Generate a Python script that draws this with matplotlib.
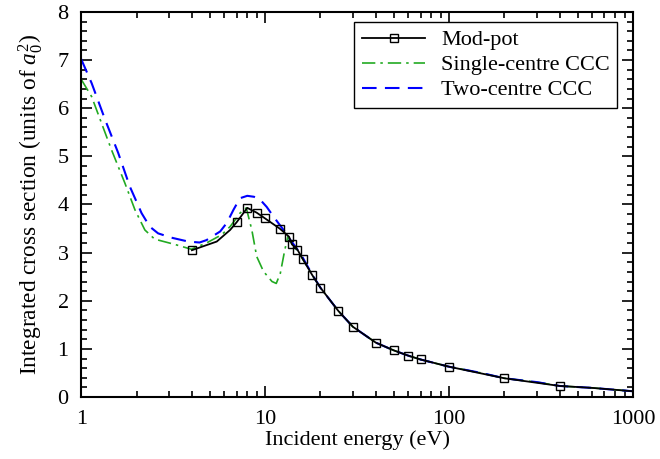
import matplotlib
matplotlib.use("Agg")
import matplotlib.pyplot as plt
from matplotlib.lines import Line2D
from matplotlib.ticker import LogLocator, MultipleLocator, NullFormatter

plt.rcParams["font.family"] = "Liberation Serif"
plt.rcParams["mathtext.fontset"] = "custom"
plt.rcParams["mathtext.rm"] = "Liberation Serif"
plt.rcParams["mathtext.it"] = "Liberation Serif:italic"
plt.rcParams["font.size"] = 16

# Mod-pot (line points; markers only at the computed energies)
modpot_e = [4, 5.46, 6.45, 7, 8, 9, 10, 12, 13.5, 14, 15, 16, 18, 20, 25, 30,
            40, 50, 60, 70, 100, 200, 400, 600, 1000]
modpot_s = [3.05, 3.23, 3.47, 3.63, 3.93, 3.83, 3.71, 3.50, 3.33, 3.17, 3.06,
            2.87, 2.54, 2.27, 1.79, 1.46, 1.13, 0.97, 0.86, 0.78, 0.63, 0.39,
            0.23, 0.19, 0.12]
modpot_marks = [4, 7, 8, 9, 10, 12, 13.5, 14, 15, 16, 18, 20, 25, 30, 40, 50,
                60, 70, 100, 200, 400]

# Single-centre CCC
single_e = [1, 1.14, 1.29, 1.46, 1.73, 1.96, 2.22, 2.51, 3.23, 3.97, 4.8, 5.8,
            6.45, 7.0, 7.3, 7.9, 8.47, 9.0, 9.8, 10.9, 11.5, 12.1, 12.8, 13.3,
            14.3, 15, 16, 18, 20, 25, 30, 40, 50, 60, 70, 100, 150, 200, 300,
            400, 600, 1000]
single_s = [6.60, 6.24, 5.69, 5.14, 4.44, 3.89, 3.47, 3.28, 3.17, 3.07, 3.20,
            3.37, 3.54, 3.72, 3.82, 3.93, 3.47, 2.92, 2.61, 2.40, 2.36, 2.57,
            3.06, 3.33, 3.12, 3.04, 2.87, 2.54, 2.27, 1.79, 1.46, 1.13, 0.97,
            0.86, 0.78, 0.63, 0.50, 0.39, 0.31, 0.23, 0.19, 0.12]

# Two-centre CCC
two_e = [1, 1.14, 1.35, 1.59, 1.84, 2.13, 2.36, 2.62, 3.10, 3.82, 4.4, 4.8,
         5.7, 6.2, 6.73, 7.3, 8, 8.7, 9.4, 10.2, 11.1, 12.6, 13.5, 14.9, 16,
         18, 20, 25, 30, 40, 50, 60, 70, 100, 150, 200, 300, 400, 600, 1000]
two_s = [7.02, 6.52, 5.76, 5.07, 4.37, 3.82, 3.54, 3.40, 3.31, 3.23, 3.21, 3.26,
         3.44, 3.62, 3.89, 4.13, 4.18, 4.16, 4.10, 3.95, 3.75, 3.47, 3.3,
         3.08, 2.9, 2.55, 2.27, 1.79, 1.46, 1.13, 0.97, 0.86, 0.78, 0.63, 0.50,
         0.39, 0.31, 0.23, 0.19, 0.12]

fig = plt.figure(figsize=(6.6, 4.59), dpi=100)
ax = fig.add_axes([0.123, 0.135, 0.836, 0.839])

ax.plot(single_e, single_s, color="#22aa22", lw=1.2, dashes=(8, 3, 1.5, 3))
ax.plot(two_e, two_s, color="blue", lw=1.5, dashes=(7, 4))
mark_idx = [modpot_e.index(e) for e in modpot_marks]
ax.plot(modpot_e, modpot_s, color="black", lw=1.3, marker="s", ms=6,
        mfc="none", mec="black", mew=1.0, markevery=mark_idx)

ax.set_xscale("log")
ax.set_xlim(1, 1000)
ax.set_ylim(0, 8)
ax.xaxis.set_major_locator(LogLocator(base=10))
ax.xaxis.set_minor_locator(LogLocator(base=10, subs=range(2, 10)))
ax.xaxis.set_minor_formatter(NullFormatter())
ax.set_xticks([1, 10, 100, 1000])
ax.set_xticklabels(["1", "10", "100", "1000"])
ax.yaxis.set_major_locator(MultipleLocator(1))
ax.yaxis.set_minor_locator(MultipleLocator(0.2))

ax.tick_params(which="both", direction="in", top=True, right=True, width=1.2)
ax.tick_params(which="major", length=8, pad=9)
ax.tick_params(which="minor", length=4)
for s in ax.spines.values():
    s.set_linewidth(1.5)

ax.set_xlabel("Incident energy (eV)", labelpad=1)
ax.set_ylabel("Integrated cross section (units of $a_0^2$)", fontsize=16.8,
              labelpad=9)

handles = [
    Line2D([], [], color="black", lw=1.3, marker="s", ms=6, mfc="none", mew=1.0),
    Line2D([], [], color="#22aa22", lw=1.2, dashes=(8, 3, 1.5, 3)),
    Line2D([], [], color="blue", lw=1.5, dashes=(7, 4)),
]
labels = ["Mod-pot", "Single-centre CCC", "Two-centre CCC"]
leg = ax.legend(handles, labels, loc="upper right", bbox_to_anchor=(0.98, 0.985),
                frameon=True, fancybox=False, handlelength=2.85, borderpad=0.35,
                labelspacing=0.2, handletextpad=0.7, borderaxespad=0.2)
leg.get_frame().set_edgecolor("black")
leg.get_frame().set_linewidth(1.0)
leg.get_frame().set_alpha(1)

fig.savefig("out.png", dpi=100)
